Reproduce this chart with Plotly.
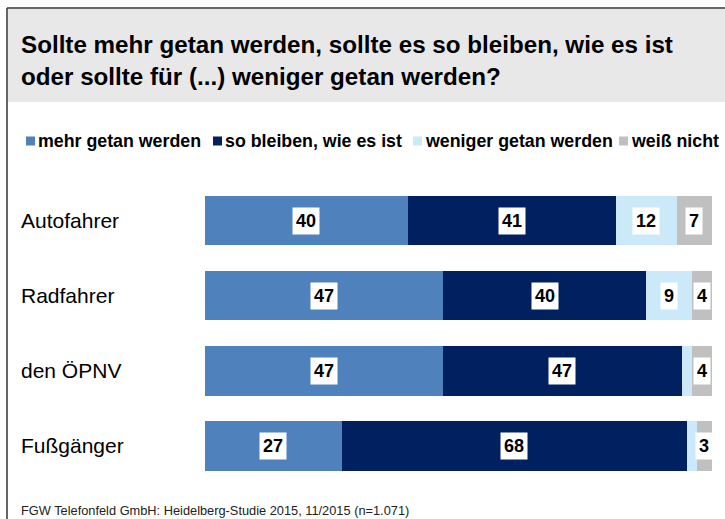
import plotly.graph_objects as go

# survey data (percent)
categories = ["Autofahrer", "Radfahrer", "den ÖPNV", "Fußgänger"]
series_names = ["mehr getan werden", "so bleiben, wie es ist",
                "weniger getan werden", "weiß nicht"]
mehr = [40, 47, 47, 27]
bleiben = [41, 40, 47, 68]
weniger = [12, 9, 2, 2]
weiss_nicht = [7, 4, 4, 3]

title_lines = ["Sollte mehr getan werden, sollte es so bleiben, wie es ist",
               "oder sollte für (...) weniger getan werden?"]
source = "FGW Telefonfeld GmbH: Heidelberg-Studie 2015, 11/2015 (n=1.071)"

colors = ["#4F81BD", "#002060", "#CCE9FA", "#C0C0C0"]
W, H = 725, 519
FONT = "Liberation Sans, Arial, sans-serif"


def px(x):
    return x / W


def py(y):
    # pixel from top -> paper fraction
    return 1 - y / H


series = [mehr, bleiben, weniger, weiss_nicht]

fig = go.Figure()
for name, vals, col in zip(series_names, series, colors):
    fig.add_trace(go.Bar(
        y=categories, x=vals, name=name, orientation='h',
        marker=dict(color=col, line=dict(width=0)),
        showlegend=False, hoverinfo='x+name'
    ))

annotations = []
shapes = []

# value labels in white boxes, skip tiny segments
for i, cat in enumerate(categories):
    left = 0
    for vals in series:
        v = vals[i]
        if v >= 3:
            annotations.append(dict(
                x=left + v / 2, y=cat, xref='x', yref='y', text=f"<b>{v}</b>",
                showarrow=False, bgcolor='white', borderpad=3,
                font=dict(family=FONT, size=18, color='black')))
        left += v
    # category label, left aligned
    annotations.append(dict(
        x=px(19), y=cat, xref='paper', yref='y', text=cat, xanchor='left',
        showarrow=False, font=dict(family=FONT, size=21, color='black')))

# title box and frame
shapes.append(dict(type='rect', xref='paper', yref='paper',
                   x0=px(8), x1=1, y0=py(102), y1=py(9),
                   fillcolor='#E8E8E8', line=dict(width=0), layer='below'))
shapes.append(dict(type='line', xref='paper', yref='paper',
                   x0=px(7), x1=1, y0=py(8), y1=py(8),
                   line=dict(color='#333333', width=1.5)))
shapes.append(dict(type='line', xref='paper', yref='paper',
                   x0=px(7), x1=px(7), y0=0, y1=py(8),
                   line=dict(color='#333333', width=1.5)))

for line, yy in zip(title_lines, [44, 76]):
    annotations.append(dict(
        x=px(19), y=py(yy), xref='paper', yref='paper', text=f"<b>{line}</b>",
        xanchor='left', yanchor='middle', showarrow=False,
        font=dict(family=FONT, size=24.2, color='black')))

# legend built by hand so it fits on one line
legend_x = [26, 213, 413, 619]
for name, col, lx in zip(series_names, colors, legend_x):
    shapes.append(dict(type='rect', xref='paper', yref='paper',
                       x0=px(lx), x1=px(lx + 9), y0=py(145.5), y1=py(136.5),
                       fillcolor=col, line=dict(width=0)))
    annotations.append(dict(
        x=px(lx + 10), y=py(141), xref='paper', yref='paper',
        text=f"<b>{name}</b>", xanchor='left', yanchor='middle',
        showarrow=False, font=dict(family=FONT, size=17.8, color='black')))

annotations.append(dict(
    x=px(20), y=py(510), xref='paper', yref='paper', text=source,
    xanchor='left', yanchor='middle', showarrow=False, borderpad=0,
    font=dict(family=FONT, size=12.8, color='#222222')))

fig.update_layout(
    width=W, height=H,
    margin=dict(l=0, r=0, t=0, b=0),
    paper_bgcolor='white', plot_bgcolor='white',
    barmode='stack', bargap=0.34,
    xaxis=dict(range=[0, 100], domain=[px(205), px(712)], visible=False,
               fixedrange=True),
    yaxis=dict(autorange='reversed', domain=[py(483.5), py(183)],
               visible=False, fixedrange=True),
    annotations=annotations, shapes=shapes,
)

# drop the default page margin so the figure sits at the window's corner
fig.write_html("out.html", config={'displayModeBar': False},
               post_script="document.body.style.margin='0';"
                           "document.body.style.overflow='hidden';")
